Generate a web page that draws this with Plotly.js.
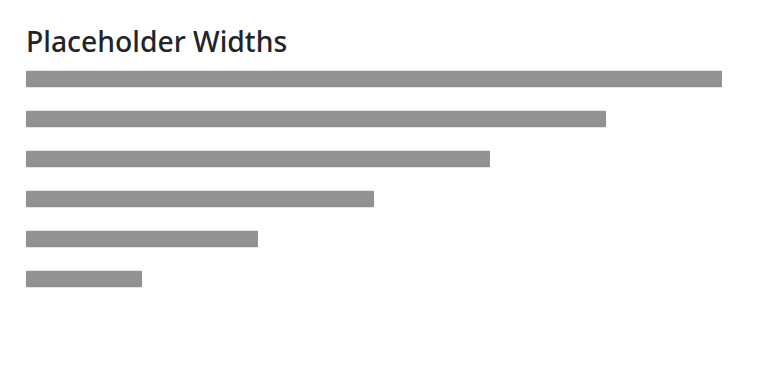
<!DOCTYPE html>
<html>
<head>
<meta charset="utf-8">
<script src="https://cdn.plot.ly/plotly-3.0.1.min.js"></script>
<style>
  html, body { margin: 0; padding: 0; background: #fff; }
  #chart { width: 761px; height: 365px; }
</style>
</head>
<body>
<div id="chart"></div>
<script>
// Placeholder rows and their widths in grid columns (out of 12)
const rows = ["col-12", "col-10", "col-8", "col-6", "col-4", "col-2"];
const columns = [12, 10, 8, 6, 4, 2];
const gridColumns = 12;

const trace = {
  type: "bar",
  orientation: "h",
  x: columns,
  y: rows,
  marker: { color: "#919294", line: { width: 0 } },
  hoverinfo: "skip"
};

const layout = {
  width: 761,
  height: 365,
  paper_bgcolor: "#ffffff",
  plot_bgcolor: "#ffffff",
  margin: { l: 26, r: 39, t: 59, b: 66, pad: 0 },
  bargap: 0.59,
  showlegend: false,
  title: {
    text: "Placeholder Widths",
    font: { family: "Noto Sans, Open Sans, sans-serif", size: 28.3, weight: 500, color: "#212529" },
    x: 0, xref: "paper", xanchor: "left",
    y: 1 - 52 / 365, yref: "container", yanchor: "bottom"
  },
  xaxis: {
    range: [0, gridColumns],
    visible: false,
    fixedrange: true
  },
  yaxis: {
    type: "category",
    categoryorder: "array",
    categoryarray: rows,
    range: [rows.length - 0.5, -0.5],
    visible: false,
    fixedrange: true
  }
};

Plotly.newPlot("chart", [trace], layout, { displayModeBar: false, staticPlot: true });
</script>
</body>
</html>
